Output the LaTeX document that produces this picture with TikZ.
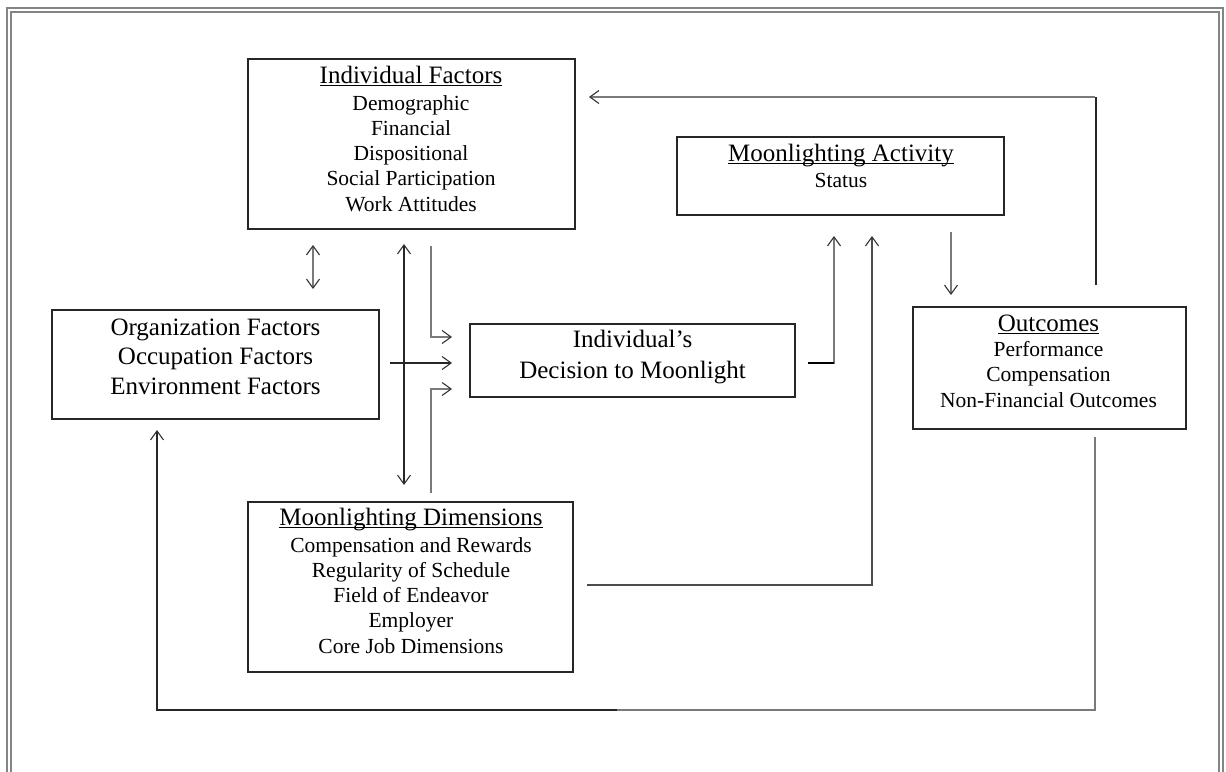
\documentclass[tikz,border=0pt]{standalone}
\usepackage{fontspec}
\setmainfont{Liberation Serif}
\usetikzlibrary{arrows.meta}
\definecolor{framegray}{HTML}{858585}
\definecolor{linegray}{HTML}{7A7A7A}
\definecolor{boxline}{HTML}{262626}
% underline at a fixed depth below the baseline
\newcommand\uln[1]{\setbox0\hbox{#1}\rlap{\rule[-2.6pt]{\wd0}{1.1pt}}\box0}
\begin{document}
\begin{tikzpicture}[x=1pt,y=-1pt,
  box/.style={draw=boxline, line width=1.3pt, rectangle, inner sep=0pt, outer sep=0pt},
  txt/.style={align=center, anchor=base, inner sep=0pt, font=\fontsize{21.5}{25.2}\selectfont},
  bigtxt/.style={align=center, anchor=base, inner sep=0pt, font=\fontsize{25}{29.5}\selectfont},
  conn/.style={line width=1.2pt, draw=linegray},
  dark/.style={line width=1.1pt, draw=black!85},
  tip/.style={-{Straight Barb[length=9pt,width=13pt,line width=1.1pt,color=black!80]}},
  tips/.style={{Straight Barb[length=9pt,width=13pt,line width=1.1pt,color=black!80]}-{Straight Barb[length=9pt,width=13pt,line width=1.1pt,color=black!80]}},
  stub/.style={line width=2.2pt, draw=black}
]
\useasboundingbox (0,0) rectangle (1226,771);

% double page frame
\draw[framegray, line width=1.8pt] (7,8) rectangle (1223,800);
\draw[framegray, line width=1.8pt] (11,12) rectangle (1219,800);

% boxes
\node[box, minimum width=327pt, minimum height=170pt] (indf) at (411.5,144) {};
\node[box, minimum width=327pt, minimum height=78pt]  (act)  at (840.5,176) {};
\node[box, minimum width=273pt, minimum height=122pt] (out)  at (1049.5,368) {};
\node[box, minimum width=327pt, minimum height=109pt] (org)  at (215.5,364.5) {};
\node[box, minimum width=325pt, minimum height=73pt]  (dec)  at (632.5,360.5) {};
\node[box, minimum width=325pt, minimum height=170pt] (dim)  at (410.5,587) {};

% box texts (each placed by the baseline of its last line)
\node[txt] (indf-t) at (411,211) {{\fontsize{25}{25.2}\selectfont\uln{Individual Factors}}\\[1.5pt]
  Demographic\\Financial\\Dispositional\\Social Participation\\Work Attitudes};
\node[txt] (act-t) at (841,187) {{\fontsize{25}{25.2}\selectfont\uln{Moonlighting Activity}}\\[0.5pt]Status};
\node[txt] (out-t) at (1048.5,407) {{\fontsize{25}{25.2}\selectfont\uln{Outcomes}}\\
  Performance\\Compensation\\Non-Financial Outcomes};
\node[bigtxt] (org-t) at (215.5,394) {Organization Factors\\Occupation Factors\\Environment Factors};
\node[bigtxt, font=\fontsize{25}{31}\selectfont] (dec-t) at (632.5,378) {Individual’s\\Decision to Moonlight};
\node[txt] (dim-t) at (411,653) {{\fontsize{25}{25.2}\selectfont\uln{Moonlighting Dimensions}}\\[1.5pt]
  Compensation and Rewards\\Regularity of Schedule\\Field of Endeavor\\Employer\\Core Job Dimensions};

% guide coordinates for connector columns and rows
\coordinate (c157)  at (157,0);
\coordinate (c313)  at (313,0);
\coordinate (c404)  at (404,0);
\coordinate (c431)  at (431,0);
\coordinate (c617)  at (617,0);
\coordinate (c834)  at (834,0);
\coordinate (c872)  at (872,0);
\coordinate (c951)  at (951,0);
\coordinate (c1095) at (1095,0);
\coordinate (rtop)  at (0,97);
\coordinate (rmid)  at (0,363);
\coordinate (rdim)  at (0,585);
\coordinate (rbot)  at (0,710);

% individual factors <-> organization factors
\draw[conn, tips, shorten <=16pt, shorten >=21pt] (indf.south -| c313) -- (org.north -| c313);
% individual factors <-> moonlighting dimensions
\draw[dark, tips, shorten <=15pt, shorten >=17pt] (indf.south -| c404) -- (dim.north -| c404);
% individual factors -> decision
\draw[conn, tip, shorten <=17pt, shorten >=18pt] (indf.south -| c431) |- ([yshift=23.5pt]dec.west);
% organization factors -> decision
\draw[dark, tip, shorten <=11pt, shorten >=18pt] (org.east |- rmid) -- (dec.west |- rmid);
% moonlighting dimensions -> decision
\draw[conn, tip, shorten <=9pt, shorten >=18pt] (dim.north -| c431) |- ([yshift=-28.5pt]dec.west);

% decision -> moonlighting activity
\draw[conn, tip, shorten >=21pt] (dec.east |- rmid) ++(13,0) coordinate (s1) -| (act.south -| c834);
\draw[stub] (s1) -- (s1 -| c834);
% moonlighting dimensions -> moonlighting activity
\draw[conn, draw=black!70, tip, shorten <=14pt, shorten >=21pt] (dim.east |- rdim) -| (act.south -| c872);
% moonlighting activity -> outcomes
\draw[conn, tip, shorten <=17pt, shorten >=12pt] (act.south -| c951) -- (out.north -| c951);

% outcomes -> individual factors (feedback over the top)
\coordinate (fbA) at (1096,285);
\draw[dark] (fbA) -- (fbA |- rtop);
\draw[conn, tip, shorten >=14pt] (c1095 |- rtop) -- (indf.east |- rtop);

% outcomes -> organization factors (feedback along the bottom)
\draw[conn] (out.south -| c1095) ++(0,8) -- (c1095 |- rbot) -- (c617 |- rbot);
\draw[dark, tip, shorten >=11pt] (c617 |- rbot) -- (c157 |- rbot) -- (org.south -| c157);
\end{tikzpicture}
\end{document}
